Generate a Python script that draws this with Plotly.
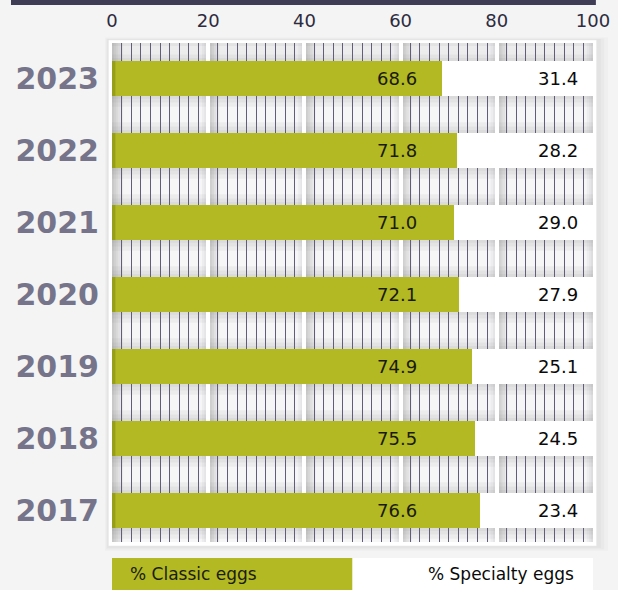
import plotly.graph_objects as go

years = ["2017", "2018", "2019", "2020", "2021", "2022", "2023"]
classic = [76.6, 75.5, 74.9, 72.1, 71.0, 71.8, 68.6]
specialty = [23.4, 24.5, 25.1, 27.9, 29.0, 28.2, 31.4]
x_ticks = [0, 20, 40, 60, 80, 100]
series_names = ["% Classic eggs", "% Specialty eggs"]

GREEN = "#b2b922"
FONT = "DejaVu Sans"
BAR_W = 0.486

fig = go.Figure()
fig.add_trace(go.Bar(y=years, x=classic, orientation="h", name=series_names[0],
                     marker=dict(color=GREEN, line=dict(width=0)), width=BAR_W,
                     hoverinfo="skip"))
fig.add_trace(go.Bar(y=years, x=specialty, orientation="h", name=series_names[1],
                     marker=dict(color="#ffffff", line=dict(width=0)), width=BAR_W,
                     hoverinfo="skip"))

shapes = []
# page top dark band
shapes.append(dict(type="rect", xref="paper", yref="paper", x0=-0.21, x1=1.006,
                   y0=1.076, y1=1.2, fillcolor="#3f3c55", line=dict(width=0), layer="below"))
# frame shadow
for dx, op in [(0.024, 0.04), (0.016, 0.05), (0.009, 0.06)]:
    shapes.append(dict(type="rect", xref="paper", yref="paper",
                       x0=-0.0073 - dx * 0.3, x1=1.0073 + dx, y0=-0.008 - dx * 0.4, y1=1.006 + dx * 0.2,
                       fillcolor="#8a8a8a", opacity=op, line=dict(width=0), layer="below"))
# white frame
shapes.append(dict(type="rect", xref="paper", yref="paper", x0=-0.0073, x1=1.0073,
                   y0=-0.008, y1=1.006, fillcolor="#ffffff", line=dict(color="#e8e8e8", width=0.5),
                   layer="below"))
# stripe segments
for s in range(5):
    a, b = 20 * s, 20 * s + 20
    shapes.append(dict(type="rect", xref="x", yref="paper", x0=a, x1=b, y0=0, y1=1,
                       fillcolor="#f6f6f7", line=dict(width=0), layer="below"))
    for w in [0.4, 0.8, 1.2, 1.7, 2.3]:
        shapes.append(dict(type="rect", xref="x", yref="paper", x0=a, x1=a + w, y0=0, y1=1,
                           fillcolor="#6d6d72", opacity=0.08, line=dict(width=0), layer="below"))
    for w in [0.4, 0.8, 1.3]:
        shapes.append(dict(type="rect", xref="x", yref="paper", x0=b - w, x1=b, y0=0, y1=1,
                           fillcolor="#6d6d72", opacity=0.06, line=dict(width=0), layer="below"))
# vertical shading near bars
for i in range(len(years)):
    for h in [0.04, 0.09, 0.15]:
        shapes.append(dict(type="rect", xref="paper", yref="y", x0=0, x1=1,
                           y0=i + BAR_W / 2, y1=i + BAR_W / 2 + h,
                           fillcolor="#6d6d72", opacity=0.07, line=dict(width=0), layer="below"))
        shapes.append(dict(type="rect", xref="paper", yref="y", x0=0, x1=1,
                           y0=i - BAR_W / 2 - h, y1=i - BAR_W / 2,
                           fillcolor="#6d6d72", opacity=0.07, line=dict(width=0), layer="below"))
for h in [0.04, 0.1]:
    shapes.append(dict(type="rect", xref="paper", yref="y", x0=0, x1=1,
                       y0=6.493 - h, y1=6.493, fillcolor="#6d6d72", opacity=0.07,
                       line=dict(width=0), layer="below"))
# darker left edge of green bars
for i in range(len(years)):
    shapes.append(dict(type="rect", xref="x", yref="y", x0=0, x1=0.7,
                       y0=i - BAR_W / 2, y1=i + BAR_W / 2, fillcolor="#7f8814", opacity=0.55,
                       line=dict(width=0), layer="above"))
# legend boxes
shapes.append(dict(type="rect", xref="paper", yref="paper", x0=0, x1=0.5, y0=-0.2, y1=-0.032,
                   fillcolor=GREEN, line=dict(width=0), layer="above"))
shapes.append(dict(type="rect", xref="paper", yref="paper", x0=0.5, x1=1.0, y0=-0.2, y1=-0.032,
                   fillcolor="#ffffff", line=dict(width=0), layer="above"))

annotations = []
for i, (c, s) in enumerate(zip(classic, specialty)):
    annotations.append(dict(x=59.2, y=i, xref="x", yref="y", text=f"{c:.1f}", showarrow=False,
                            xanchor="center", yanchor="middle",
                            font=dict(family=FONT, size=18, color="#1a1a0c")))
    annotations.append(dict(x=92.7, y=i, xref="x", yref="y", text=f"{s:.1f}", showarrow=False,
                            xanchor="center", yanchor="middle",
                            font=dict(family=FONT, size=18, color="#0a0a0a")))
annotations.append(dict(x=0.033, y=-0.064, xref="paper", yref="paper", text=series_names[0],
                        showarrow=False, xanchor="left", yanchor="middle",
                        font=dict(family=FONT, size=17, color="#1c1c10")))
annotations.append(dict(x=0.964, y=-0.064, xref="paper", yref="paper", text=series_names[1],
                        showarrow=False, xanchor="right", yanchor="middle",
                        font=dict(family=FONT, size=17, color="#0a0a0a")))

fig.update_layout(
    width=618, height=590,
    margin=dict(l=112, r=25, t=43, b=48, autoexpand=False),
    barmode="stack",
    showlegend=False,
    paper_bgcolor="#f4f4f4",
    plot_bgcolor="rgba(0,0,0,0)",
    shapes=shapes,
    annotations=annotations,
    xaxis=dict(range=[0, 100], side="top", tickvals=x_ticks, ticktext=[str(t) for t in x_ticks],
               showgrid=True, gridcolor="#ffffff", gridwidth=4, zeroline=False, automargin=False,
               showline=False, ticks="", ticklabelstandoff=11,
               tickfont=dict(family=FONT, size=18, color="#2d2b40"),
               minor=dict(dtick=2, tick0=0, showgrid=True, gridcolor="#625d78", gridwidth=1.2)),
    yaxis=dict(type="category", categoryorder="array", categoryarray=years, automargin=False,
               range=[-0.4375, 6.493], showgrid=False, zeroline=False, showline=False,
               ticks="", ticklabelstandoff=12,
               tickfont=dict(family=FONT, size=30, color="#76748a", weight="bold")),
)

fig.write_html("out.html", config={"displayModeBar": False},
               post_script="document.body.style.margin='0';document.body.style.overflow='hidden';")
